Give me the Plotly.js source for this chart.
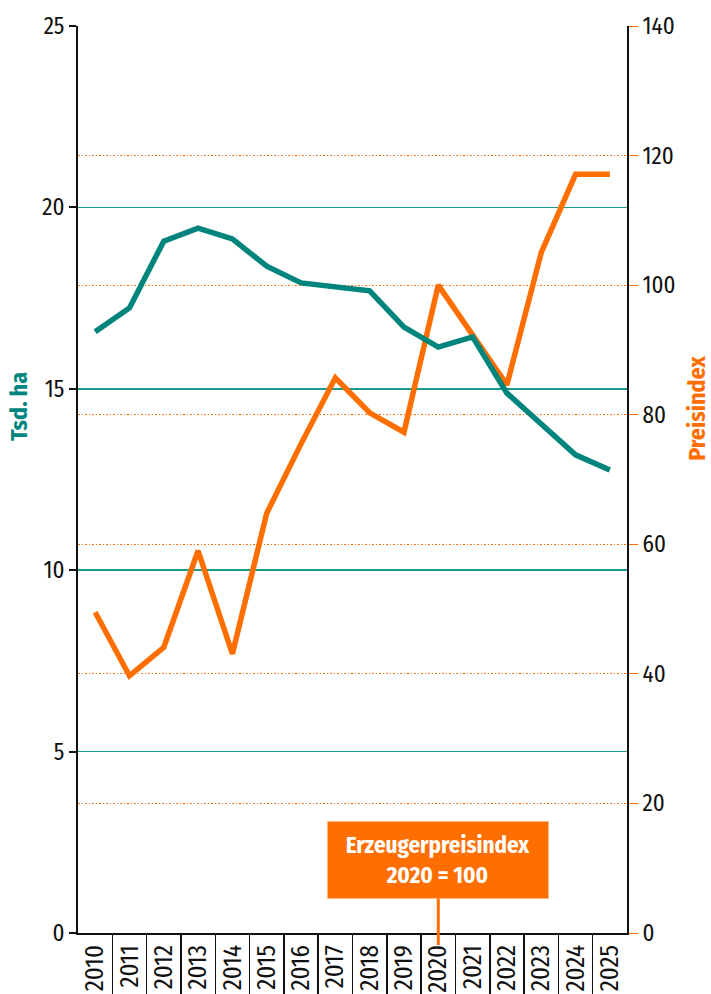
<!DOCTYPE html>
<html>
<head>
<meta charset="utf-8">
<script src="https://cdn.plot.ly/plotly-3.0.1.min.js"></script>
<style>
html,body{margin:0;padding:0;background:#fff;}
#chart{width:711px;height:994px;}
</style>
</head>
<body>
<div id="chart"></div>
<script>
const years = ["2010","2011","2012","2013","2014","2015","2016","2017","2018","2019","2020","2021","2022","2023","2024","2025"];
const flaecheTsdHa = [16.57,17.23,19.07,19.43,19.13,18.38,17.92,17.81,17.70,16.70,16.15,16.43,14.88,14.03,13.18,12.76];
const preisindex = [49.5,39.7,44.1,59.0,43.1,64.8,75.5,85.7,80.3,77.3,100.0,92.3,84.6,105.0,117.1,117.1];
const leftTitle = "Tsd. ha";
const rightTitle = "Preisindex";
const noteText = "<b>Erzeugerpreisindex<br>2020 = 100</b>";
const noteYear = "2020";

const TEAL = "#00857D";
const TEAL_GRID = "#1A9A8F";
const ORANGE = "#FF6E00";
const FONT = '"Fira Sans Condensed", "Roboto Condensed", "DejaVu Sans Condensed", sans-serif';

const boundaries = years.slice(1).map((_, i) => i + 0.5);

const traces = [
  {x: years, y: preisindex, xaxis: 'x', yaxis: 'y', type: 'scatter', mode: 'lines',
   line: {color: ORANGE, width: 5.5}, hoverinfo: 'skip', showlegend: false},
  {x: years, y: flaecheTsdHa, xaxis: 'x', yaxis: 'y2', type: 'scatter', mode: 'lines',
   line: {color: TEAL, width: 5.5}, hoverinfo: 'skip', showlegend: false},
  {x: [], y: [], xaxis: 'x2', yaxis: 'y', type: 'scatter', showlegend: false}
];

const layout = {
  width: 711, height: 994,
  margin: {l: 78, r: 84, t: 26, b: 61},
  paper_bgcolor: '#fff', plot_bgcolor: '#fff',
  font: {family: FONT, color: '#111', size: 22},
  showlegend: false,
  xaxis: {
    type: 'category', categoryarray: years, categoryorder: 'array', range: [-0.5, 15.5],
    showgrid: false, zeroline: false,
    showline: true, linecolor: '#111', linewidth: 2,
    ticks: '', tickangle: -90, tickfont: {size: 25, family: FONT, color: '#111'},
    anchor: 'y', fixedrange: true
  },
  xaxis2: {
    type: 'linear', range: [-0.5, 15.5], overlaying: 'x', anchor: 'y', side: 'bottom',
    tickmode: 'array', tickvals: boundaries, showticklabels: false,
    ticks: 'outside', ticklen: 61, tickwidth: 1.5, tickcolor: '#111',
    showgrid: false, zeroline: false, showline: false, fixedrange: true
  },
  yaxis: {
    side: 'right', range: [0, 140], dtick: 20, tick0: 0,
    showgrid: true, gridcolor: ORANGE, griddash: '1.5px,2px', gridwidth: 1.2,
    zeroline: false, showline: true, linecolor: '#111', linewidth: 2,
    ticks: 'outside', ticklen: 9, tickcolor: ORANGE, tickwidth: 1,
    tickfont: {size: 23, family: FONT, color: '#111'},
    anchor: 'x', fixedrange: true
  },
  yaxis2: {
    side: 'left', overlaying: 'y', range: [0, 25], dtick: 5, tick0: 0,
    showgrid: true, gridcolor: TEAL_GRID, gridwidth: 1.5,
    zeroline: false, showline: true, linecolor: '#111', linewidth: 2,
    ticks: 'outside', ticklen: 7, tickcolor: '#111', tickwidth: 2,
    tickfont: {size: 23, family: FONT, color: '#111'},
    anchor: 'x', fixedrange: true
  },
  annotations: [
    {
      xref: 'x', yref: 'paper', x: years.indexOf(noteYear), y: -0.0132,
      text: noteText, showarrow: true, arrowhead: 0, arrowwidth: 3, arrowcolor: ORANGE,
      ax: 0, ay: -85, standoff: 0,
      bgcolor: ORANGE, borderpad: 4, width: 212, height: 68,
      font: {size: 23, color: '#fff', family: FONT}, align: 'center'
    },
    {
      xref: 'paper', yref: 'paper', x: -0.1075, y: 0.581, xanchor: 'center', yanchor: 'middle',
      text: '<b>' + leftTitle + '</b>', textangle: -90, showarrow: false,
      font: {size: 24, color: TEAL, family: FONT}
    },
    {
      xref: 'paper', yref: 'paper', x: 1.1275, y: 0.579, xanchor: 'center', yanchor: 'middle',
      text: '<b>' + rightTitle + '</b>', textangle: -90, showarrow: false,
      font: {size: 24, color: ORANGE, family: FONT}
    }
  ]
};

Plotly.newPlot('chart', traces, layout, {displayModeBar: false, staticPlot: true});
</script>
</body>
</html>
